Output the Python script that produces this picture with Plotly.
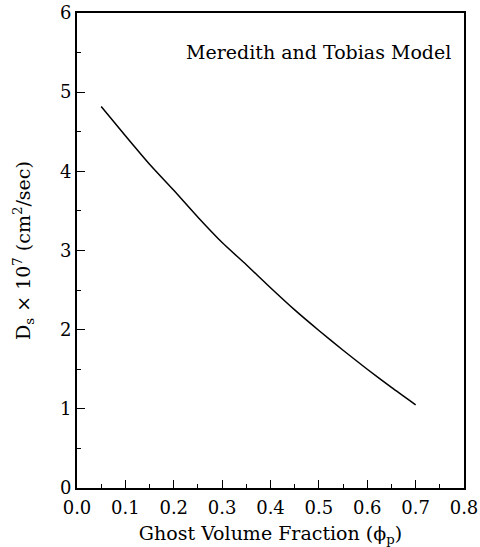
import plotly.graph_objects as go

phi = [0.05, 0.10, 0.15, 0.20, 0.25, 0.30, 0.35, 0.40, 0.45, 0.50, 0.55, 0.60, 0.65, 0.70]
ds = [4.82, 4.45, 4.09, 3.76, 3.42, 3.10, 2.82, 2.53, 2.25, 1.99, 1.74, 1.50, 1.27, 1.05]

x_ticks = [0.0, 0.1, 0.2, 0.3, 0.4, 0.5, 0.6, 0.7, 0.8]
y_ticks = [0, 1, 2, 3, 4, 5, 6]

FONT = "DejaVu Serif"

fig = go.Figure()
fig.add_trace(go.Scatter(x=phi, y=ds, mode="lines",
                         line=dict(color="black", width=1.5, shape="spline", smoothing=0.6),
                         showlegend=False, hoverinfo="skip"))

axis_common = dict(showline=True, linecolor="black", linewidth=2, mirror=True,
                   showgrid=False, zeroline=False, ticks="inside", ticklen=8,
                   tickwidth=1.2, tickcolor="black", automargin=False,
                   tickfont=dict(family=FONT, size=18, color="black"))

fig.update_xaxes(range=[0, 0.8], tickvals=x_ticks,
                 ticktext=[f"{v:.1f}" for v in x_ticks], ticklabelstandoff=2,
                 minor=dict(ticks="inside", ticklen=4, dtick=0.05, tickcolor="black", tickwidth=1),
                 title=dict(text="Ghost Volume Fraction (ϕ<sub>p</sub>)",
                            font=dict(family=FONT, size=19, color="black"), standoff=12),
                 **axis_common)
fig.update_yaxes(range=[0, 6], tickvals=y_ticks,
                 ticktext=[str(v) for v in y_ticks],
                 minor=dict(ticks="inside", ticklen=4, dtick=0.5, tickcolor="black", tickwidth=1),
                 title=dict(text="D<sub>s</sub> × 10<sup>7</sup> (cm<sup>2</sup>/sec)",
                            font=dict(family=FONT, size=19, color="black"), standoff=24),
                 **axis_common)

fig.add_annotation(text="Meredith and Tobias Model", xref="paper", yref="paper",
                   x=0.972, y=0.918, xanchor="right", yanchor="middle", showarrow=False,
                   font=dict(family=FONT, size=19, color="black"))

fig.update_layout(width=480, height=547, margin=dict(l=77, r=16, t=13, b=59),
                  paper_bgcolor="white", plot_bgcolor="white")

fig.write_html("out.html")
